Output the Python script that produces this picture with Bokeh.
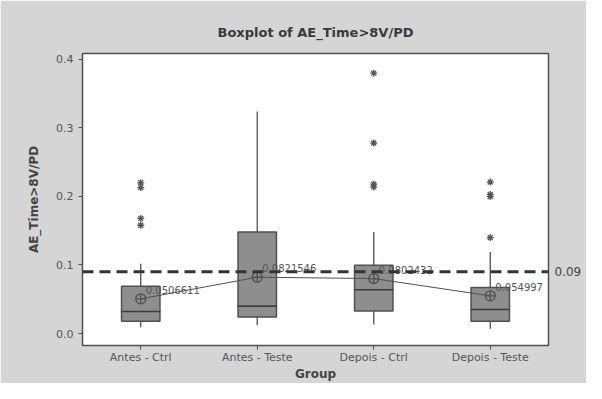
from bokeh.plotting import figure
from bokeh.models import (Span, Range1d, FactorRange, ColumnDataSource,
                          CustomJSTickFormatter, LinearAxis, FixedTicker)
from bokeh.core.properties import value
from bokeh.embed import file_html
from bokeh.resources import INLINE

groups = ["Antes - Ctrl", "Antes - Teste", "Depois - Ctrl", "Depois - Teste"]
q1 = [0.018, 0.024, 0.033, 0.018]
medians = [0.032, 0.040, 0.064, 0.035]
q3 = [0.069, 0.148, 0.0996, 0.067]
whisker_low = [0.009, 0.012, 0.013, 0.007]
whisker_high = [0.102, 0.324, 0.148, 0.119]
means = [0.0506611, 0.0821546, 0.0802432, 0.054997]
mean_labels = ["0.0506611", "0.0821546", "0.0802432", "0.054997"]
outlier_groups = ["Antes - Ctrl"] * 4 + ["Depois - Ctrl"] * 4 + ["Depois - Teste"] * 4
outlier_values = [0.220, 0.213, 0.168, 0.158,
                  0.380, 0.278, 0.218, 0.214,
                  0.221, 0.203, 0.200, 0.140]
reference_value = 0.09
yticks = [0.0, 0.1, 0.2, 0.3, 0.4]
title_text = "Boxplot of AE_Time>8V/PD"

BG = "#d5d5d5"
DARK = "#505050"

p = figure(width=586, height=383, x_range=FactorRange(*groups),
           y_range=Range1d(-0.0175, 0.4087),
           output_backend="svg", toolbar_location=None,
           min_border_left=82, min_border_right=38,
           min_border_top=53, min_border_bottom=37)

p.background_fill_color = "white"
p.border_fill_color = BG
p.outline_line_color = DARK
p.outline_line_width = 1.5
p.xgrid.visible = False
p.ygrid.visible = False

xax = p.below[0]
yax = p.left[0]

# axes styling
for ax in (xax, yax):
    ax.axis_line_color = DARK
    ax.major_tick_line_color = DARK
    ax.major_tick_in = 0
    ax.major_tick_out = 4
    ax.minor_tick_line_color = None
    ax.major_label_text_font = "DejaVu Sans"
    ax.major_label_text_font_size = "11px"
    ax.major_label_text_color = "#555555"
    ax.axis_label_text_font = "DejaVu Sans"
    ax.axis_label_text_font_size = "12px"
    ax.axis_label_text_font_style = "bold"
    ax.axis_label_text_color = "#444444"

yax.ticker = yticks
yax.formatter = CustomJSTickFormatter(code="return tick.toFixed(1);")
yax.axis_label = "AE_Time>8V/PD"
yax.axis_label_standoff = 12
xax.axis_label = "Group"
xax.major_label_standoff = 1
xax.axis_label_standoff = 0

# title, drawn as the label of a tickless axis above the frame
title_axis = LinearAxis(axis_label=title_text, ticker=FixedTicker(ticks=[]),
                        axis_line_color=None, major_tick_line_color=None,
                        minor_tick_line_color=None, axis_label_standoff=14,
                        axis_label_text_font="DejaVu Sans",
                        axis_label_text_font_size="13px",
                        axis_label_text_font_style="bold",
                        axis_label_text_color="#3a3a3a")
p.add_layout(title_axis, "above")

src = ColumnDataSource(dict(g=groups, q1=q1, med=medians, q3=q3,
                            lo=whisker_low, hi=whisker_high,
                            mean=means, lab=mean_labels))

# whiskers
p.segment(x0="g", y0="lo", x1="g", y1="q1", source=src, line_color=DARK, line_width=1.3)
p.segment(x0="g", y0="q3", x1="g", y1="hi", source=src, line_color=DARK, line_width=1.3)
# boxes
p.vbar(x="g", bottom="q1", top="q3", width=0.33, source=src,
       fill_color="#8e8e8e", line_color=DARK, line_width=1.5)
# medians
p.rect(x="g", y="med", width=0.33, height=0.0001, source=src,
       fill_color=None, line_color="#3c3c3c", line_width=1.5)

# reference line with its value shown on the right side
p.add_layout(Span(location=reference_value, dimension="width",
                  line_color="#333333", line_width=3, line_dash="11 6"))
ref_axis = LinearAxis(ticker=FixedTicker(ticks=[reference_value]),
                      axis_line_color=None, major_tick_line_color=None,
                      minor_tick_line_color=None, major_label_standoff=0,
                      major_label_text_font="DejaVu Sans",
                      major_label_text_font_size="12px",
                      major_label_text_color="#444444")
p.add_layout(ref_axis, "right")

# mean connect line and markers
p.line(x="g", y="mean", source=src, line_color=DARK, line_width=1)
p.scatter(x="g", y="mean", source=src, marker="circle_cross", size=10,
          fill_color=None, line_color=DARK, line_width=1.3)
p.text(x="g", y="mean", text="lab", source=src, x_offset=5, y_offset=-9,
       text_font=value("DejaVu Sans"), text_font_size="10px",
       text_color="#555555", text_baseline="middle")

# outliers
p.scatter(x=outlier_groups, y=outlier_values, marker="asterisk", size=7,
          line_color="#555555", line_width=1.3)

open("out.html", "w").write(file_html(p, INLINE))
